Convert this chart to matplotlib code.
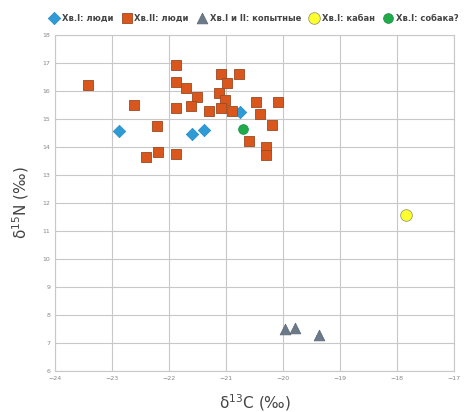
import numpy as np
import matplotlib.pyplot as plt

# Хв.II: люди
hv2_x = [-23.42, -21.88, -21.88, -21.70, -21.51, -21.09, -20.78, -20.99, -21.12, -21.01,
         -22.61, -21.88, -21.61, -21.30, -21.09, -20.90, -20.48, -20.09, -20.40, -20.19,
         -22.21, -20.60, -20.29, -20.29, -22.20, -22.40, -21.88]
hv2_y = [16.21, 16.93, 16.31, 16.10, 15.78, 16.60, 16.60, 16.27, 15.92, 15.68,
         15.50, 15.40, 15.48, 15.29, 15.38, 15.29, 15.60, 15.62, 15.17, 14.79,
         14.76, 14.21, 14.01, 13.71, 13.81, 13.63, 13.75]
# Хв.I: люди
hv1_x = [-22.87, -21.59, -21.39, -20.75]
hv1_y = [14.58, 14.46, 14.61, 15.26]
# копытные
ung_x = [-19.96, -19.79, -19.37]
ung_y = [7.50, 7.54, 7.29]
# кабан
boar_x = [-17.84]
boar_y = [11.57]
# собака?
dog_x = [-20.70]
dog_y = [14.63]

fig = plt.figure(figsize=(4.7, 4.12), dpi=100)
ax = fig.add_axes([0.117, 0.0995, 0.849, 0.8155])

ax.scatter(hv1_x, hv1_y, marker="D", s=40, color="#2e9bd6", edgecolor="#2a8cc2", lw=0.5,
           label="Хв.I: люди", zorder=3)
ax.scatter(hv2_x, hv2_y, marker="s", s=55, color="#d9571c", edgecolor="#9c4a22", lw=0.6,
           label="Хв.II: люди", zorder=3)
ax.scatter(ung_x, ung_y, marker="^", s=60, color="#6b7a89", edgecolor="#5a6674", lw=0.5,
           label="Хв.I и II: копытные", zorder=3)
ax.scatter(boar_x, boar_y, marker="o", s=70, color="#ffff2e", edgecolor="#9a9a6a", lw=0.6,
           label="Хв.I: кабан", zorder=3)
ax.scatter(dog_x, dog_y, marker="o", s=50, color="#1faa4b", edgecolor="#1a9040", lw=0.5,
           label="Хв.I: собака?", zorder=3)

ax.set_xlim(-24, -17)
ax.set_ylim(6, 18)
ax.set_xticks(np.arange(-24, -16, 1))
ax.set_yticks(np.arange(6, 19, 1))
ax.tick_params(labelsize=4.5, colors="#888888", length=0)
ax.grid(True, color="#c8c8c8", lw=0.8)
ax.set_axisbelow(True)
for s in ax.spines.values():
    s.set_color("#c8c8c8")

ax.set_xlabel(r"$\mathrm{\delta}^{13}$C (‰)", fontsize=11, color="#444444", labelpad=8)
ax.set_ylabel(r"$\mathrm{\delta}^{15}$N (‰)", fontsize=11, color="#444444", labelpad=8)

fig.legend(loc="upper center", bbox_to_anchor=(0.54, 0.985), ncol=5, frameon=False,
           prop={"size": 6.0, "weight": "bold"}, handletextpad=0.3, columnspacing=1.0,
           handlelength=1.2, markerscale=1.0, labelcolor="#444444")

plt.savefig("out.png", dpi=100)
